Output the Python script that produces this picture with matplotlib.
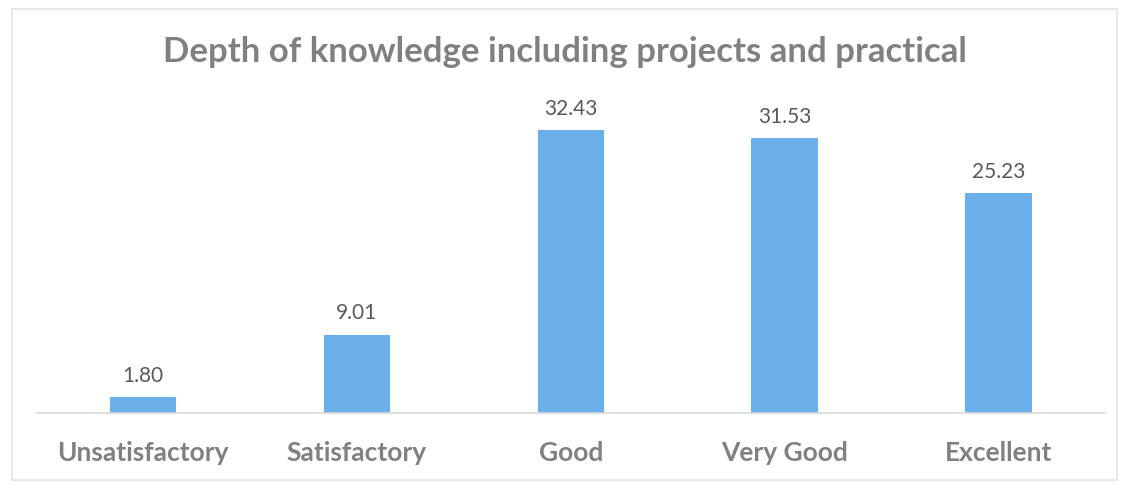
import matplotlib
matplotlib.use("Agg")
import matplotlib.pyplot as plt
from matplotlib.patches import Rectangle

# data
categories = ["Unsatisfactory", "Satisfactory", "Good", "Very Good", "Excellent"]
values = [1.80, 9.01, 32.43, 31.53, 25.23]

bar_color = "#6aaeea"
text_grey = "#808080"

plt.rcParams['font.family'] = ['Lato', 'DejaVu Sans']

fig = plt.figure(figsize=(11.29, 4.86), dpi=100)
ax = fig.add_axes([0.032, 0.150, 0.947, 0.628])

x = range(len(categories))
bars = ax.bar(x, values, width=0.31, color=bar_color, zorder=2)

# value labels above the bars
for b, v in zip(bars, values):
    ax.text(b.get_x() + b.get_width() / 2, v + 1.3, "%.2f" % v,
            ha="center", va="bottom", fontsize=15, color="#595959", clip_on=False)

ax.set_xlim(-0.5, len(categories) - 0.5)
ax.set_ylim(0, 35)
ax.set_xticks(list(x))
ax.set_xticklabels(categories, fontsize=19, fontweight="bold", color=text_grey)
ax.tick_params(axis="x", length=0, pad=20)
ax.set_yticks([])

for s in ["top", "right", "left"]:
    ax.spines[s].set_visible(False)
ax.spines["bottom"].set_color("#d9d9d9")
ax.spines["bottom"].set_linewidth(1.2)

fig.text(0.5, 0.893, "Depth of knowledge including projects and practical",
         ha="center", va="center", fontsize=25, fontweight="bold", color=text_grey)

# faint outer frame of the chart area
fig.patches.append(Rectangle((0.011, 0.012), 0.978, 0.97, transform=fig.transFigure,
                             fill=False, edgecolor="#e4e4e4", linewidth=1.2))

fig.savefig("out.png", dpi=100)
